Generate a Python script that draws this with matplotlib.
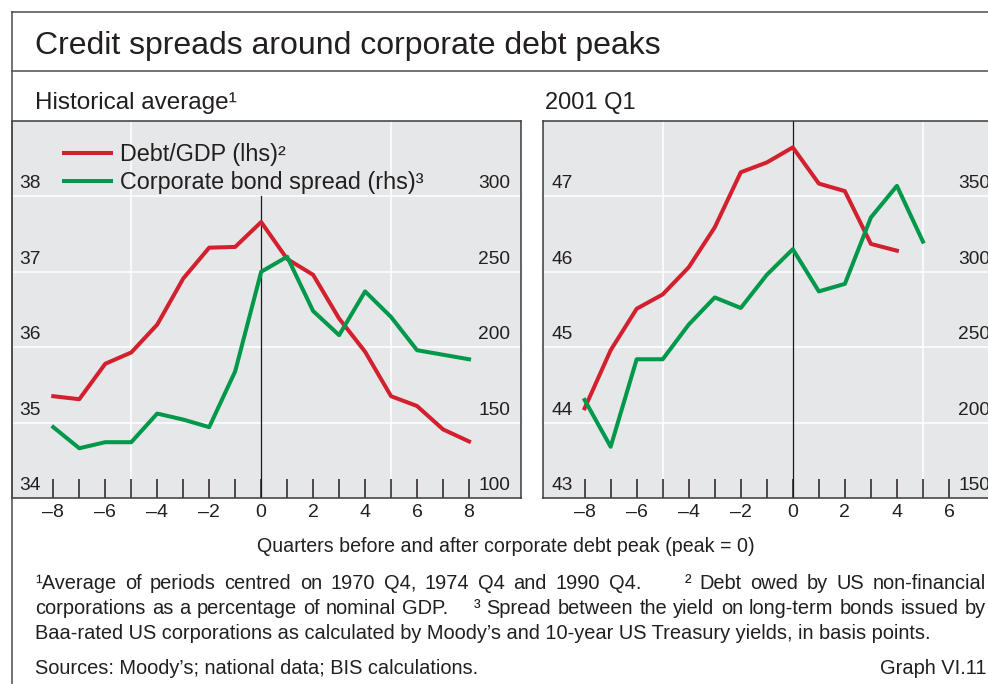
import matplotlib
matplotlib.use('Agg')
import matplotlib.pyplot as plt
from matplotlib.lines import Line2D
from matplotlib.font_manager import FontProperties

plt.rcParams['font.family'] = ['Liberation Sans', 'DejaVu Sans']

W, H = 988, 684
TEXT = '#231f20'
RED = '#d2202f'
GREEN = '#00984a'
PANEL_BG = '#e6e7e8'

# Historical average panel
hist_q = list(range(-8, 9))
hist_debt = [35.35, 35.31, 35.78, 35.93, 36.30, 36.91, 37.32, 37.33, 37.66,
             37.17, 36.96, 36.38, 35.94, 35.35, 35.22, 34.91, 34.75]
hist_spread = [147, 133, 137, 137, 156, 152, 147, 184, 250,
               260, 224, 208, 237, 220, 198, 195, 192]

# 2001 Q1 panel
q01_debt = list(range(-8, 5))
debt_2001 = [44.19, 44.96, 45.51, 45.70, 46.06, 46.59, 47.32, 47.45, 47.65,
             47.17, 47.07, 46.37, 46.28]
q01_spread = list(range(-8, 6))
spread_2001 = [215, 184, 242, 242, 265, 283, 276, 298, 315,
               287, 292, 336, 357, 320]

hist_lhs_ticks = [34, 35, 36, 37, 38]
hist_rhs_ticks = [100, 150, 200, 250, 300]
lhs_2001_ticks = [43, 44, 45, 46, 47]
rhs_2001_ticks = [150, 200, 250, 300, 350]

legend_labels = ['Debt/GDP (lhs)\u00b2', 'Corporate bond spread (rhs)\u00b3']

footnotes = [
    '\u00b9Average of periods centred on 1970 Q4, 1974 Q4 and 1990 Q4.     '
    '\u00b2 Debt owed by US non-financial',
    'corporations as a percentage of nominal GDP.    \u00b3 Spread between the '
    'yield on long-term bonds issued by',
    'Baa-rated US corporations as calculated by Moody\u2019s and 10-year US '
    'Treasury yields, in basis points.',
]


def fx(x):
    return x / W


def fy(y):
    return 1 - y / H


fig = plt.figure(figsize=(W / 100, H / 100), dpi=100)


def panel(rect, q1, lhs, q2, rhs, lhs_ticks, rhs_ticks, xmax, last_tick, zero_top):
    ax = fig.add_axes(rect)
    ax.set_facecolor(PANEL_BG)
    ax.set_xlim(-9.6, xmax)
    ax.set_ylim(lhs_ticks[0], lhs_ticks[0] + 5)
    ax2 = ax.twinx()
    ax2.set_ylim(rhs_ticks[0], rhs_ticks[0] + 250)

    for v in lhs_ticks[1:]:
        ax.axhline(v, color='white', lw=1.1, zorder=1)
    for v in (-5, 5):
        ax.axvline(v, color='white', lw=1.1, zorder=1)
    ax.axvline(0, ymax=zero_top, color='#1a1a1a', lw=0.9, zorder=2)

    red, = ax.plot(q1, lhs, color=RED, lw=2.9, zorder=3)
    green, = ax2.plot(q2, rhs, color=GREEN, lw=2.9, zorder=3)

    ticks = list(range(-8, last_tick + 1))
    ax.set_xticks(ticks)
    ax.set_xticklabels([str(t).replace('-', '\u2013') if t % 2 == 0 else ''
                        for t in ticks])
    ax.tick_params(axis='x', direction='in', length=14, width=1.1,
                   color=TEXT, labelsize=14, labelcolor=TEXT, pad=4)
    ax.tick_params(axis='y', left=False, labelleft=False)
    ax2.set_yticks([])
    for s in ax.spines.values():
        s.set_color('#3a3a3a')
        s.set_linewidth(1.1)
    for s in ax2.spines.values():
        s.set_visible(False)

    for v in lhs_ticks:
        ax.annotate(str(v), xy=(0, v), xycoords=('axes fraction', 'data'),
                    xytext=(8, 8), textcoords='offset pixels', ha='left',
                    va='baseline', fontsize=13.8, color=TEXT)
    for v in rhs_ticks:
        ax2.annotate(str(v), xy=(1, v), xycoords=('axes fraction', 'data'),
                     xytext=(-11, 8), textcoords='offset pixels', ha='right',
                     va='baseline', fontsize=13.8, color=TEXT)
    return ax, ax2, red, green


ax_h, ax_h2, red, green = panel(
    [fx(11.7), fy(498), fx(521 - 11.7), (498 - 121) / H],
    hist_q, hist_debt, hist_q, hist_spread,
    hist_lhs_ticks, hist_rhs_ticks, 10.0, 8, 0.8)

panel([fx(543), fy(498), fx(458), (498 - 121) / H],
      q01_debt, debt_2001, q01_spread, spread_2001,
      lhs_2001_ticks, rhs_2001_ticks, 8.0, 6, 1.0)

ax_h2.legend([red, green], legend_labels, loc='upper left',
             bbox_to_anchor=((64 - 11.7) / 509.3, 1 - (143 - 121) / 377),
             frameon=False, fontsize=16.8, handlelength=2.0,
             handletextpad=0.4, labelspacing=0.2, borderpad=0,
             borderaxespad=0, labelcolor=TEXT)

# frame around the graph
frame = dict(color='#4d4d4d', lw=1.1, transform=fig.transFigure)
fig.add_artist(Line2D([fx(12), fx(12)], [0, fy(12)], **frame))
fig.add_artist(Line2D([fx(12), 1], [fy(12), fy(12)], **frame))
fig.add_artist(Line2D([fx(12), 1], [fy(71), fy(71)], **frame))

fig.text(fx(35), fy(54), 'Credit spreads around corporate debt peaks',
         fontsize=23, color=TEXT, va='baseline')
fig.text(fx(35), fy(109), 'Historical average\u00b9', fontsize=17.5,
         color=TEXT, va='baseline')
fig.text(fx(545), fy(109), '2001 Q1', fontsize=17, color=TEXT, va='baseline')
fig.text(fx(505.5), fy(552),
         'Quarters before and after corporate debt peak (peak = 0)',
         fontsize=14.1, color=TEXT, ha='center', va='baseline')


def justified(line, x0, x1, y, size):
    # spread the words of a line so it fills x0..x1 (pixels)
    renderer = fig.canvas.get_renderer()
    prop = FontProperties(family=['Liberation Sans'], size=size)

    def width(s):
        return renderer.get_text_width_height_descent(s, prop, ismath=False)[0]

    words = line.split(' ')
    n_spaces = len(words) - 1
    stretch = (x1 - x0 - width(line)) / n_spaces
    for i, w in enumerate(words):
        if not w:
            continue
        prefix = ' '.join(words[:i] + [w])
        start = width(prefix) - width(w)
        fig.text(fx(x0 + start + i * stretch), fy(y), w, fontsize=size,
                 color=TEXT, va='baseline')


justified(footnotes[0], 35, 986, 589, 14.4)
justified(footnotes[1], 35, 986, 614, 14.4)
fig.text(fx(35), fy(639), footnotes[2], fontsize=14.4, color=TEXT, va='baseline')
fig.text(fx(35), fy(674), 'Sources: Moody\u2019s; national data; BIS calculations.',
         fontsize=14.4, color=TEXT, va='baseline')
fig.text(fx(986), fy(674), 'Graph VI.11', fontsize=14.4, color=TEXT,
         ha='right', va='baseline')

fig.savefig('out.png', dpi=100)
